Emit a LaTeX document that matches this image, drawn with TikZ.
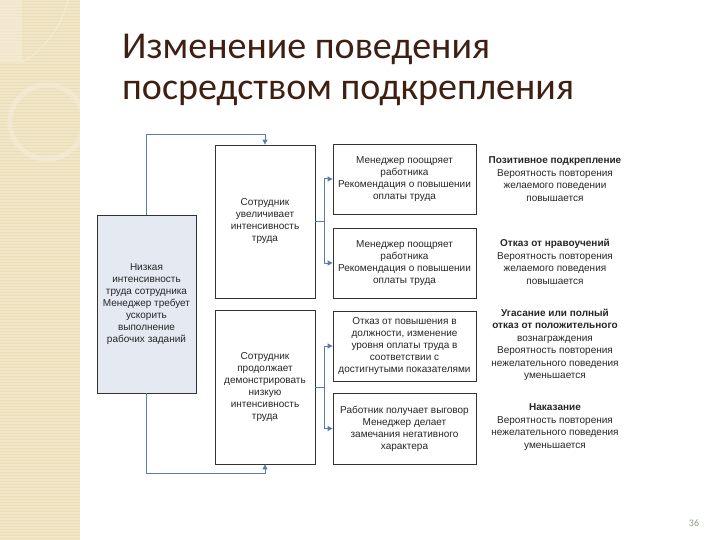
\documentclass[tikz,border=0pt]{standalone}
\usepackage{fontspec}
\setmainfont{Liberation Sans}
\newfontfamily\titlefont{Carlito}
\usetikzlibrary{arrows.meta}
\definecolor{conncol}{HTML}{5A7BAE}
\definecolor{lbfill}{HTML}{E4E9F2}
\definecolor{titlecol}{HTML}{3E1F12}
\definecolor{stripbg}{HTML}{F2E6C9}
\definecolor{stripline}{HTML}{EBDDB8}
\definecolor{decorcol}{HTML}{F6EDD8}
\definecolor{pagecol}{HTML}{8E9A86}
\begin{document}
\begin{tikzpicture}[x=1pt,y=-1pt,
  box/.style={draw=black!80, line width=0.8pt, fill=white, align=center,
    font=\fontsize{10}{12}\selectfont, text=black!85, inner sep=2pt},
  link/.style={draw=conncol, line width=1pt},
  arr/.style={link, -{Triangle[length=5pt,width=5pt]}},
  note/.style={align=center, font=\fontsize{10}{12.5}\selectfont, text=black!85},
  titletext/.style={anchor=base west, inner sep=0pt, text=titlecol,
    font=\titlefont\fontsize{38}{44}\selectfont}]
\useasboundingbox (0,0) rectangle (720,540);
% decorative strip
\fill[stripbg] (0,0) rectangle (80,540);
\foreach \yy in {1.5,4.5,...,540} \draw[stripline, line width=0.6pt] (0,\yy) -- (80,\yy);
\begin{scope}
  \clip (0,0) rectangle (80,540);
  \fill[decorcol, opacity=0.6] (0,0) rectangle (22,62);
  \draw[decorcol, line width=1.2pt, opacity=0.7] (22,62) .. controls (45,50) and (62,25) .. (68,0);
  \draw[decorcol, line width=5pt, opacity=0.6] (47,122) circle (37);
\end{scope}
% title
\node[titletext] (t1) at (122,59) {Изменение поведения};
\node[titletext] (t2) at (122,100) {посредством подкрепления};
% boxes
\node[box, fill=lbfill, minimum width=99pt, minimum height=178pt] (lb) at (146.5,304)
  {Низкая\\интенсивность\\труда сотрудника\\Менеджер требует\\ускорить\\выполнение\\рабочих заданий};
\node[box, minimum width=100pt, minimum height=153pt] (mt) at (265,221.5)
  {Сотрудник\\увеличивает\\интенсивность\\труда};
\node[box, minimum width=100pt, minimum height=154pt] (mb) at (265,387)
  {Сотрудник\\продолжает\\демонстрировать\\низкую\\интенсивность\\труда};
\node[box, minimum width=143pt, minimum height=70pt] (r1) at (404.5,179)
  {Менеджер поощряет\\работника\\Рекомендация о повышении\\оплаты труда};
\node[box, minimum width=143pt, minimum height=70pt] (r2) at (404.5,263)
  {Менеджер поощряет\\работника\\Рекомендация о повышении\\оплаты труда};
\node[box, minimum width=143pt, minimum height=70pt] (r3) at (404.5,346)
  {Отказ от повышения в\\должности, изменение\\уровня оплаты труда в\\соответствии с\\достигнутыми показателями};
\node[box, minimum width=143pt, minimum height=71pt] (r4) at (404.5,428.5)
  {Работник получает выговор\\Менеджер делает\\замечания негативного\\характера};
% notes
\node[note] (n1) at (555,179) {\textbf{Позитивное подкрепление}\\Вероятность повторения\\желаемого поведении\\повышается};
\node[note] (n2) at (555,262) {\textbf{Отказ от нравоучений}\\Вероятность повторения\\желаемого поведения\\повышается};
\node[note] (n3) at (555,345) {\textbf{Угасание или полный}\\\textbf{отказ от положительного}\\вознаграждения\\Вероятность повторения\\нежелательного поведения\\уменьшается};
\node[note] (n4) at (555,427) {\textbf{Наказание}\\Вероятность повторения\\нежелательного поведения\\уменьшается};
% loops
\draw[arr] (lb.north) -- ++(0,-80) -| (mt.north);
\draw[arr] (lb.south) -- ++(0,80) -| (mb.south);
% branches
\coordinate (j1) at (324,221.5);
\coordinate (j2) at (324,387);
\draw[link] (mt.east) -- (j1);
\draw[link] (j1 |- r1.west) -- (j1 |- r2.west);
\draw[arr] (j1 |- r1.west) -- (r1.west);
\draw[arr] (j1 |- r2.west) -- (r2.west);
\draw[link] (mb.east) -- (j2);
\draw[link] (j2 |- r3.west) -- (j2 |- r4.west);
\draw[arr] (j2 |- r3.west) -- (r3.west);
\draw[arr] (j2 |- r4.west) -- (r4.west);
% page number
\node[font=\titlefont\fontsize{10}{12}\selectfont, text=pagecol] (pn) at (694,523) {36};
\end{tikzpicture}
\end{document}
